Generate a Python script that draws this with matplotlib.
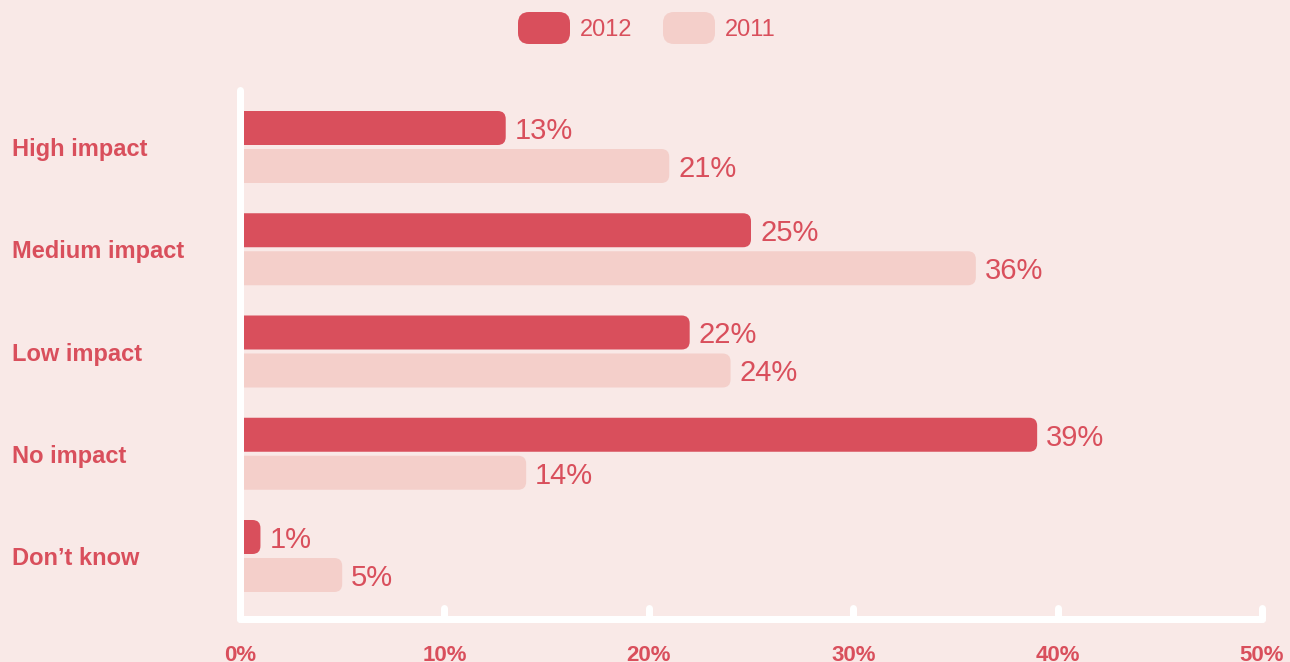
import matplotlib.pyplot as plt
from matplotlib.patches import FancyBboxPatch
from matplotlib.transforms import IdentityTransform

categories = ["High impact", "Medium impact", "Low impact", "No impact", "Don\u2019t know"]
series = ["2012", "2011"]
v2012 = [13, 25, 22, 39, 1]
v2011 = [21, 36, 24, 14, 5]
ticks = [0, 10, 20, 30, 40, 50]
tick_labels = ["0%", "10%", "20%", "30%", "40%", "50%"]

dark = "#D94F5C"
light = "#F4CFCA"
bg = "#F9E9E7"
txt = "#D94F5C"

plt.rcParams['font.family'] = ['Liberation Sans', 'DejaVu Sans']

fig = plt.figure(figsize=(12.9, 6.62), dpi=100)
fig.patch.set_facecolor(bg)
ax = fig.add_axes([240 / 1290, 43 / 662, 1022 / 1290, 529 / 662])
ax.set_facecolor(bg)

ax.set_xlim(0, 50)
ytop = (90 - 147) / 102.25
ybot = (619 - 147) / 102.25
ax.set_ylim(ybot, ytop)

# px -> data ratios for round corners
xpp = 50 / 1022
ypp = 1 / 102.25
r = 8 * xpp
h = 34 * ypp
off = 19 * ypp

for i, cat in enumerate(categories):
    for vals, col, sgn in ((v2012, dark, -1), (v2011, light, 1)):
        v = vals[i]
        yc = i + sgn * off
        p = FancyBboxPatch((-1, yc - h / 2), v + 1, h,
                           boxstyle="round,pad=0,rounding_size=%f" % r,
                           mutation_aspect=ypp / xpp,
                           fc=col, ec="none", zorder=2)
        ax.add_patch(p)
        ax.annotate("%d%%" % v, (v, yc), xytext=(6.5, -2), textcoords="offset points",
                    va="center", ha="left", fontsize=21, color=txt, zorder=4)

# white axis lines with rounded caps
lw = 7 * 0.72
ax.plot([0, 0], [ybot, ytop], color="white", lw=lw, solid_capstyle="round",
        clip_on=False, zorder=3)
ax.plot([0, 50], [ybot, ybot], color="white", lw=lw, solid_capstyle="round",
        clip_on=False, zorder=3)
for t in ticks[1:]:
    ax.plot([t, t], [ybot, ybot - 11 * ypp], color="white", lw=lw,
            solid_capstyle="round", clip_on=False, zorder=3)

for s in ax.spines.values():
    s.set_visible(False)

ax.set_xticks(ticks)
ax.set_xticklabels(tick_labels, fontsize=16, fontweight="bold", color=txt)
ax.set_yticks(range(len(categories)))
ax.set_yticklabels(categories, fontsize=17, fontweight="bold", color=txt, ha="left")
ax.tick_params(axis="x", length=0, pad=19)
ax.tick_params(axis="y", length=0, pad=228 * 0.72)

# legend
tr = IdentityTransform()
for name, col, x0 in ((series[0], dark, 518), (series[1], light, 663)):
    fig.patches.append(FancyBboxPatch((x0, 618), 52, 32,
                                      boxstyle="round,pad=0,rounding_size=11",
                                      fc=col, ec="none", transform=tr, figure=fig))
    fig.text((x0 + 62) / 1290, 632 / 662, name, fontsize=17, color=txt,
             va="center", ha="left")

fig.savefig("out.png", dpi=100, facecolor=bg)
